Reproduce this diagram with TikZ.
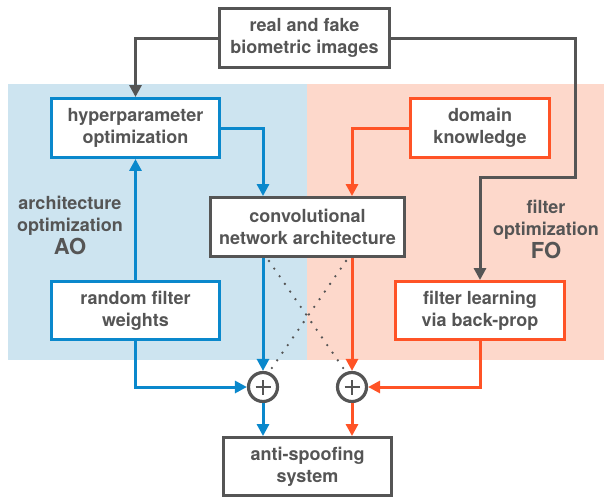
\documentclass[tikz,border=0pt]{standalone}
\usepackage{fontspec}
\setmainfont{TeX Gyre Heros}
\usetikzlibrary{arrows.meta,positioning,calc}
\definecolor{dgray}{HTML}{555555}
\definecolor{aoblue}{HTML}{0A88CC}
\definecolor{fored}{HTML}{FF5326}
\definecolor{aobg}{HTML}{CDE4F0}
\definecolor{fobg}{HTML}{FDD8CB}

\begin{document}
\begin{tikzpicture}[x=1pt,y=-1pt,>={Triangle[length=12pt,width=12pt]},line width=3pt,
    font=\bfseries\fontsize{18}{22}\selectfont,
    main node/.style={rectangle,draw=dgray,line width=3.4pt,fill=white,text=dgray,align=center,minimum height=58.5pt,inner sep=0pt},
    sum node/.style={circle,draw=dgray,line width=3.2pt,fill=white,minimum size=29pt,inner sep=0pt,
      path picture={\draw[dgray,line width=2.4pt] (path picture bounding box.center) +(-7.5pt,0) -- +(7.5pt,0) +(0,-7.5pt) -- +(0,7.5pt);}},
    opt label/.style={text=dgray,align=center}]
        \useasboundingbox (0,0) rectangle (605,499);
        \fill[aobg] (8,84) rectangle (307,360);
        \fill[fobg] (307,84) rectangle (604,360);

        \node[main node,minimum width=169.5pt] (real) at (304.5,38) {real and fake\\biometric images};
        \node[main node,minimum width=167.5pt,draw=aoblue] (hyper) at (135.5,128) {hyperparameter\\optimization};
        \node[main node,minimum width=138.5pt,draw=fored] (domain) at (480,128) {domain\\knowledge};
        \node[main node,minimum width=193.5pt] (conv) at (307.5,227) {convolutional\\network architecture};
        \node[main node,minimum width=167.5pt,minimum height=57.5pt,draw=aoblue] (random) at (135.5,310.5) {random filter\\weights};
        \node[main node,minimum width=168.5pt,minimum height=57.5pt,draw=fored] (backprop) at (480,310.5) {filter learning\\via back-prop};
        \node[sum node] (sumA) at (263,387) {};
        \node[sum node] (sumB) at (352,387) {};
        \node[main node,minimum width=167.5pt,minimum height=57.5pt] (anti) at (307.5,466.5) {anti-spoofing\\system};
        \coordinate (turn) at (575,177);

        \node[opt label] (ao) at (70,225) {architecture\\optimization\\[1pt]{\fontsize{22}{24}\selectfont AO}};
        \node[opt label] (fo) at (546,229) {filter\\optimization\\[1pt]{\fontsize{22}{24}\selectfont FO}};

        % inputs
        \draw[->,dgray] (real.west) -| (hyper.north);
        \draw[->,dgray] (real.east) -| (turn) -| (backprop.north);

        % architecture optimization
        \draw[->,aoblue] (random.north) -- (hyper.south);
        \draw[->,aoblue] (hyper.east) -| (sumA |- conv.north);
        \draw[->,aoblue] (sumA |- conv.south) -- (sumA.north);
        \draw[->,aoblue] (random.south) |- (sumA.west);
        \draw[->,aoblue] (sumA.south) -- (sumA |- anti.north);

        % filter optimization
        \draw[->,fored] (domain.west) -| (sumB |- conv.north);
        \draw[->,fored] (sumB |- conv.south) -- (sumB.north);
        \draw[->,fored] (backprop.south) |- (sumB.east);
        \draw[->,fored] (sumB.south) -- (sumB |- anti.north);

        \draw[dgray,line width=2.6pt,line cap=round,dash pattern=on 0pt off 9.3pt]
        ($(sumA |- conv.south)+(6,3)$) -- (sumB.112)
        ($(sumB |- conv.south)+(-6,3)$) -- (sumA.68);
    \end{tikzpicture}
\end{document}
